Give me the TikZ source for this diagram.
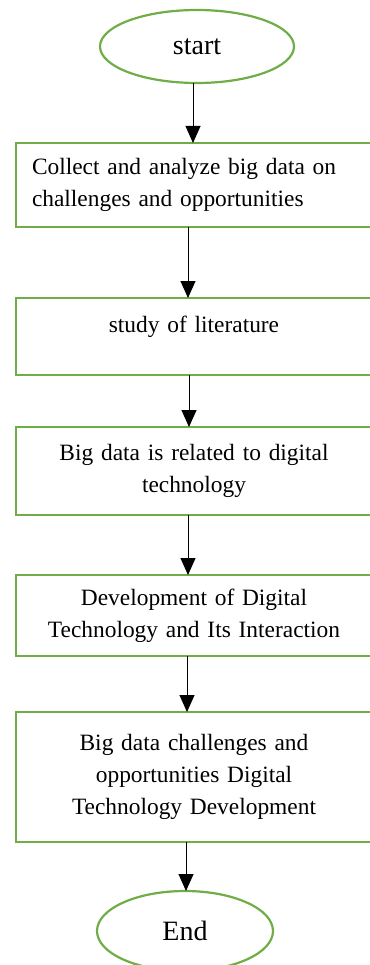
\documentclass[tikz,border=0pt]{standalone}
\usepackage{fontspec}
\setmainfont{Liberation Serif}
\usepackage{xcolor}
\usetikzlibrary{shapes.geometric, arrows.meta, positioning}
\definecolor{flowgreen}{RGB}{112,173,71}

\begin{document}
\begin{tikzpicture}[
			x=1pt, y=1pt,
			every node/.style={font=\fontsize{23.4}{32}\selectfont, outer sep=0pt},
			process/.style={draw=flowgreen, line width=2.2pt, rectangle, text width=324pt, inner xsep=16pt, inner ysep=0pt, align=center},
			terminal/.style={ellipse, draw=flowgreen, line width=2.2pt, inner sep=0pt, font=\fontsize{28}{32}\selectfont},
			arrow/.style={-{Triangle[length=17pt, width=15pt]}, line width=0.9pt}
			]
			
			\useasboundingbox (0,0) rectangle (369,-965);
			
			% Nodes
			\node (start) [terminal, minimum width=194pt, minimum height=73pt] at (197,-46.5) {start};
			\node (collect) [process, align=left, minimum height=84pt, below=60pt of start, xshift=-3pt] {Collect and analyze big data on\\challenges and opportunities};
			\node (literature) [process, text height=34pt, text depth=43pt, below=71pt of collect] {study of literature};
			\node (related) [process, minimum height=88pt, below=52pt of literature] {Big data is related to digital\\technology};
			\node (develop) [process, minimum height=81pt, below=60pt of related] {Development of Digital\\Technology and Its Interaction};
			\node (result) [process, minimum height=130pt, below=56pt of develop] {Big data challenges and\\opportunities Digital\\Technology Development};
			\node (end) [terminal, minimum width=176pt, minimum height=80pt, below=49pt of result, xshift=-9pt] {End};
			
			% Connections
			\draw [arrow] ([xshift=-4pt]start.south) -- ([xshift=-1pt]collect.north);
			\draw [arrow] ([xshift=-6pt]collect.south) -- ([xshift=-6pt]literature.north);
			\draw [arrow] ([xshift=-5pt]literature.south) -- ([xshift=-5pt]related.north);
			\draw [arrow] ([xshift=-6pt]related.south) -- ([xshift=-6pt]develop.north);
			\draw [arrow] ([xshift=-7pt]develop.south) -- ([xshift=-7pt]result.north);
			\draw [arrow] ([xshift=-8pt]result.south) -- ([xshift=1pt]end.north);
			
		\end{tikzpicture}
\end{document}
